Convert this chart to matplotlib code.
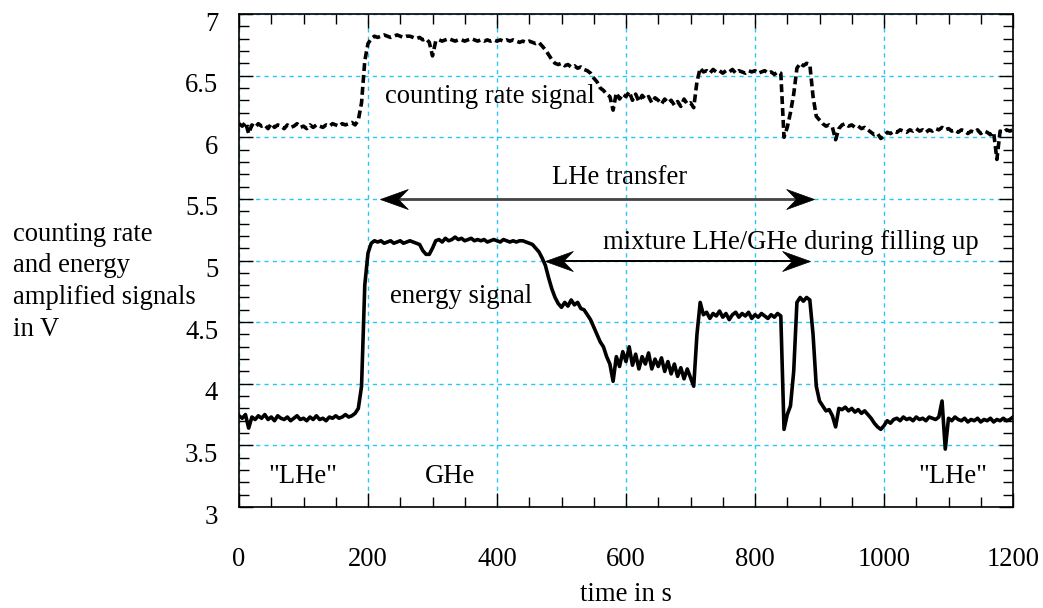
import numpy as np
import matplotlib
matplotlib.use("Agg")
import matplotlib.pyplot as plt
from matplotlib.path import Path
from matplotlib.ticker import MultipleLocator, FuncFormatter
from matplotlib.transforms import ScaledTranslation

# time axis, one sample every 5 s
time_s = np.arange(0, 1201, 5)

energy = [
    3.74, 3.72, 3.75, 3.64, 3.73, 3.71, 3.74, 3.72, 3.75, 3.71, 3.73, 3.70, 3.74, 3.72, 3.71, 3.73, 3.70, 3.72, 3.74, 3.71,
    3.72, 3.70, 3.73, 3.71, 3.74, 3.71, 3.72, 3.70, 3.73, 3.72, 3.74, 3.72, 3.73, 3.75, 3.73, 3.74, 3.76, 3.80, 3.98, 4.80,
    5.06, 5.14, 5.16, 5.15, 5.16, 5.14, 5.15, 5.16, 5.14, 5.15, 5.16, 5.14, 5.15, 5.16, 5.15, 5.14, 5.13, 5.08, 5.05, 5.05,
    5.10, 5.16, 5.17, 5.15, 5.18, 5.16, 5.17, 5.19, 5.17, 5.18, 5.16, 5.17, 5.18, 5.16, 5.17, 5.16, 5.17, 5.15, 5.16, 5.17,
    5.16, 5.15, 5.17, 5.16, 5.15, 5.16, 5.15, 5.16, 5.16, 5.15, 5.14, 5.13, 5.10, 5.07, 5.02, 4.96, 4.86, 4.77, 4.70, 4.65,
    4.62, 4.66, 4.63, 4.68, 4.64, 4.66, 4.61, 4.60, 4.56, 4.52, 4.46, 4.40, 4.34, 4.30, 4.22, 4.16, 4.02, 4.22, 4.14, 4.26,
    4.18, 4.30, 4.15, 4.24, 4.12, 4.22, 4.16, 4.25, 4.12, 4.20, 4.14, 4.21, 4.10, 4.18, 4.08, 4.16, 4.06, 4.13, 4.04, 4.12,
    4.05, 3.98, 4.40, 4.66, 4.56, 4.58, 4.53, 4.57, 4.55, 4.59, 4.54, 4.57, 4.52, 4.56, 4.58, 4.54, 4.57, 4.55, 4.58, 4.53,
    4.56, 4.54, 4.57, 4.55, 4.53, 4.56, 4.54, 4.57, 4.55, 3.63, 3.75, 3.82, 4.10, 4.66, 4.70, 4.67, 4.70, 4.68, 4.40, 3.98,
    3.86, 3.82, 3.78, 3.79, 3.74, 3.65, 3.80, 3.79, 3.81, 3.78, 3.80, 3.77, 3.79, 3.76, 3.78, 3.75, 3.72, 3.68, 3.65, 3.63,
    3.66, 3.70, 3.68, 3.71, 3.72, 3.70, 3.73, 3.71, 3.72, 3.70, 3.73, 3.71, 3.72, 3.70, 3.73, 3.72, 3.71, 3.73, 3.86, 3.47,
    3.72, 3.70, 3.73, 3.71, 3.70, 3.72, 3.69, 3.71, 3.70, 3.72, 3.69, 3.71, 3.70, 3.72, 3.69, 3.71, 3.70, 3.72, 3.70, 3.71,
    3.73,
]

counting = [
    6.11, 6.09, 6.12, 6.03, 6.10, 6.08, 6.11, 6.09, 6.10, 6.07, 6.11, 6.08, 6.10, 6.09, 6.07, 6.10, 6.08, 6.09, 6.11, 6.08,
    6.09, 6.07, 6.10, 6.08, 6.10, 6.09, 6.08, 6.10, 6.09, 6.11, 6.10, 6.09, 6.11, 6.10, 6.11, 6.12, 6.10, 6.14, 6.28, 6.62,
    6.76, 6.80, 6.82, 6.81, 6.82, 6.83, 6.82, 6.81, 6.82, 6.83, 6.82, 6.81, 6.82, 6.82, 6.81, 6.80, 6.81, 6.79, 6.80, 6.77,
    6.66, 6.78, 6.79, 6.78, 6.79, 6.80, 6.79, 6.78, 6.79, 6.79, 6.78, 6.79, 6.80, 6.79, 6.78, 6.79, 6.78, 6.79, 6.78, 6.79,
    6.78, 6.79, 6.78, 6.79, 6.78, 6.79, 6.78, 6.77, 6.78, 6.77, 6.78, 6.77, 6.76, 6.77, 6.74, 6.71, 6.67, 6.63, 6.60, 6.59,
    6.60, 6.58, 6.59, 6.57, 6.58, 6.56, 6.57, 6.55, 6.54, 6.52, 6.48, 6.45, 6.40, 6.38, 6.35, 6.33, 6.22, 6.36, 6.31, 6.35,
    6.33, 6.37, 6.30, 6.35, 6.29, 6.34, 6.31, 6.33, 6.28, 6.32, 6.30, 6.27, 6.31, 6.28, 6.30, 6.26, 6.29, 6.25, 6.31, 6.27,
    6.28, 6.24, 6.45, 6.56, 6.53, 6.54, 6.52, 6.55, 6.53, 6.54, 6.52, 6.54, 6.53, 6.55, 6.52, 6.54, 6.53, 6.52, 6.54, 6.53,
    6.54, 6.52, 6.53, 6.54, 6.52, 6.53, 6.51, 6.53, 6.52, 6.00, 6.08, 6.20, 6.35, 6.56, 6.60, 6.58, 6.60, 6.59, 6.33, 6.17,
    6.14, 6.11, 6.09, 6.10, 6.08, 5.98, 6.07, 6.10, 6.11, 6.09, 6.10, 6.08, 6.09, 6.07, 6.08, 6.06, 6.04, 6.02, 6.03, 5.99,
    6.01, 6.04, 6.03, 6.05, 6.04, 6.06, 6.05, 6.04, 6.06, 6.05, 6.07, 6.05, 6.06, 6.04, 6.06, 6.05, 6.07, 6.06, 6.08, 6.06,
    6.07, 6.05, 6.06, 6.04, 6.06, 6.05, 6.03, 6.05, 6.04, 6.06, 6.03, 6.05, 6.04, 6.02, 6.04, 5.82, 6.05, 6.04, 6.06, 6.05,
    6.06,
]

ylabel_lines = ['counting rate', 'and energy', 'amplified signals', 'in V']

# double arrows: (x_left, x_right, y)
transfer_arrow = (218, 891, 5.5)
mixture_arrow = (475, 886, 5.0)

plt.rcParams['font.family'] = ['Liberation Serif', 'DejaVu Serif']
FS = 19.2
GRID_COLOR = '#29c5f6'

fig = plt.figure(figsize=(10.43, 6.08), dpi=100)
ax = fig.add_axes([239 / 1043, 1 - 507 / 608, (1013 - 239) / 1043, (507 - 14) / 608])

ax.plot(time_s, energy, color='black', lw=2.6, solid_joinstyle='round')
ax.plot(time_s, counting, color='black', lw=2.6, linestyle=(0, (2.2, 1.1)))

ax.set_xlim(0, 1200)
ax.set_ylim(3, 7)
ax.xaxis.set_major_locator(MultipleLocator(200))
ax.xaxis.set_minor_locator(MultipleLocator(50))
ax.yaxis.set_major_locator(MultipleLocator(0.5))
ax.yaxis.set_minor_locator(MultipleLocator(0.1))
ax.yaxis.set_major_formatter(FuncFormatter(lambda v, p: f'{v:g}'))

ax.grid(True, which='major', color=GRID_COLOR, linestyle=(0, (3, 3)), lw=1.0)
ax.tick_params(which='both', direction='in', top=True, right=True, labelsize=FS, color='black')
ax.tick_params(which='major', length=10, width=1.0)
ax.tick_params(which='minor', length=7, width=1.0)
ax.tick_params(axis='x', pad=29)
ax.tick_params(axis='y', pad=15)
for sp in ax.spines.values():
    sp.set_linewidth(1.2)

# y tick labels sit a little below their ticks in the original
shift = ScaledTranslation(0, -7 / 100, fig.dpi_scale_trans)
for lab in ax.get_yticklabels():
    lab.set_transform(lab.get_transform() + shift)

ax.set_xlabel('time in s', fontsize=FS, labelpad=7)

# y label written as separate lines at the left edge
for i, line in enumerate(ylabel_lines):
    fig.text(13 / 1043, 1 - (234 + 32 * i) / 608, line, fontsize=FS, ha='left', va='center')

# arrow heads as notched markers, tip at the origin
head = Path([(0, 0), (-2, 0.72), (-1.3, 0), (-2, -0.72), (0, 0)],
            [Path.MOVETO, Path.LINETO, Path.LINETO, Path.LINETO, Path.CLOSEPOLY])
head_left = Path([(0, 0), (2, 0.72), (1.3, 0), (2, -0.72), (0, 0)],
                 [Path.MOVETO, Path.LINETO, Path.LINETO, Path.LINETO, Path.CLOSEPOLY])


def double_arrow(x0, x1, y, color, lw):
    ax.plot([x0 + 10, x1 - 10], [y, y], color=color, lw=lw, zorder=3)
    ax.plot([x1], [y], marker=head, ms=40, color='black', mec='black', mew=0.5, zorder=4)
    ax.plot([x0], [y], marker=head_left, ms=40, color='black', mec='black', mew=0.5, zorder=4)


double_arrow(*transfer_arrow, color='#444444', lw=2.0)
double_arrow(*mixture_arrow, color='black', lw=1.4)

ax.text(226, 6.33, 'counting rate signal', fontsize=FS, ha='left', va='center')
ax.text(485, 5.67, 'LHe transfer', fontsize=FS, ha='left', va='center')
ax.text(565, 5.15, 'mixture LHe/GHe during filling up', fontsize=FS, ha='left', va='center')
ax.text(234, 4.71, 'energy signal', fontsize=FS, ha='left', va='center')
ax.text(45, 3.25, '"LHe"', fontsize=FS, ha='left', va='center')
ax.text(288, 3.25, 'GHe', fontsize=FS, ha='left', va='center')
ax.text(1053, 3.25, '"LHe"', fontsize=FS, ha='left', va='center')

fig.savefig('out.png', dpi=100)
